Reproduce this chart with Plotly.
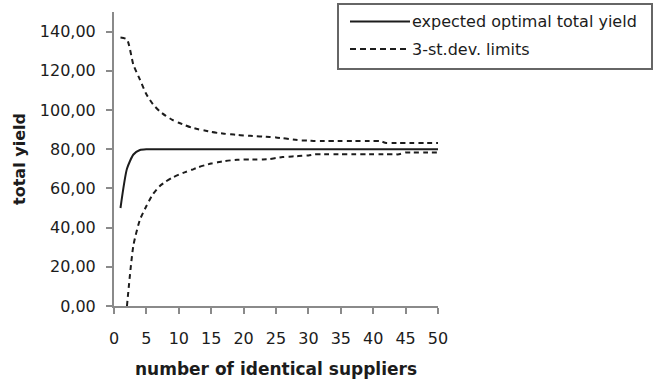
import plotly.graph_objects as go

# ---- data ----
suppliers = list(range(1, 51))
expected_yield = [50, 70, 77.3, 79.6, 80] + [80] * 45
upper_limit = [137, 136, 123, 115.5, 108, 103, 99.5, 97, 95, 93.5,
               92.2, 91, 90.2, 89.5, 88.8, 88.3, 87.9, 87.6, 87.3, 87,
               86.8, 86.6, 86.4, 86.2, 86, 85.6, 85.2, 84.8, 84.5, 84.4] \
    + [84.2] * 11 + [83.2] * 9
lower_limit = [None, 0, 31, 44, 51, 57, 61, 63.5, 65.5, 67,
               68.3, 69.5, 70.8, 71.8, 72.7, 73.3, 73.9, 74.3, 74.6, 74.7,
               74.7, 74.7, 74.8, 75, 75.5, 76, 76.2, 76.4, 76.6, 76.8] \
    + [77.4] * 14 + [78.3] * 6
x_ticks = list(range(0, 51, 5))
y_ticks = [0, 20, 40, 60, 80, 100, 120, 140]
y_tick_labels = ["0,00", "20,00", "40,00", "60,00", "80,00", "100,00", "120,00", "140,00"]
series_names = ["expected optimal total yield", "3-st.dev. limits"]

W, H = 657, 383
# plot area in page pixels
P_LEFT, P_RIGHT, P_TOP, P_BOTTOM = 114, 438, 12, 306
ML, MR, MT, MB = P_LEFT, W - P_RIGHT, P_TOP, H - P_BOTTOM
pw, ph = P_RIGHT - P_LEFT, P_BOTTOM - P_TOP

def px(xp):
    return (xp - P_LEFT) / pw

def py(yp):
    return (P_BOTTOM - yp) / ph

line_col = "#1c1c1c"
axis_col = "#8a8a8a"
font = "DejaVu Sans"

fig = go.Figure()
fig.add_trace(go.Scatter(x=suppliers, y=expected_yield, mode="lines",
                         line=dict(color=line_col, width=2, shape="spline", smoothing=0.6),
                         name=series_names[0]))
for ys in (upper_limit, lower_limit):
    fig.add_trace(go.Scatter(x=suppliers, y=ys, mode="lines",
                             line=dict(color=line_col, width=2, dash="5px,4px",
                                       shape="spline", smoothing=0.6),
                             name=series_names[1], connectgaps=False))

# manual legend
shapes = [
    dict(type="rect", xref="paper", yref="paper", x0=px(338), x1=px(652), y0=py(69), y1=py(4),
         line=dict(color="#666666", width=2), fillcolor="white", layer="above"),
    dict(type="line", xref="paper", yref="paper", x0=px(350), x1=px(410), y0=py(21.5), y1=py(21.5),
         line=dict(color=line_col, width=2), layer="above"),
    dict(type="line", xref="paper", yref="paper", x0=px(350), x1=px(409), y0=py(49), y1=py(49),
         line=dict(color=line_col, width=2, dash="6px,4px"), layer="above"),
]
annotations = [
    dict(text=series_names[0], xref="paper", yref="paper", x=px(410), y=py(21),
         xanchor="left", yanchor="middle", showarrow=False,
         font=dict(family=font, size=16, color=line_col)),
    dict(text=series_names[1], xref="paper", yref="paper", x=px(410), y=py(49),
         xanchor="left", yanchor="middle", showarrow=False,
         font=dict(family=font, size=16, color=line_col)),
]

fig.update_layout(
    width=W, height=H,
    margin=dict(l=ML, r=MR, t=MT, b=MB, pad=0),
    paper_bgcolor="white", plot_bgcolor="white",
    showlegend=False,
    font=dict(family=font, size=16, color=line_col),
    shapes=shapes, annotations=annotations,
    xaxis=dict(range=[0, 50], tickvals=x_ticks, showgrid=False, zeroline=False,
               automargin=False,
               showline=True, linecolor=axis_col, linewidth=2,
               ticks="outside", ticklen=6, tickwidth=2, tickcolor=axis_col,
               tickfont=dict(family=font, size=16, color=line_col),
               ticklabelstandoff=11,
               title=dict(text="<b>number of identical suppliers</b>", standoff=16,
                          font=dict(family=font, size=17, color=line_col))),
    yaxis=dict(range=[0, 150], tickvals=y_ticks, ticktext=y_tick_labels,
               showgrid=False, zeroline=False, automargin=False,
               showline=True, linecolor=axis_col, linewidth=2,
               ticks="outside", ticklen=6, tickwidth=2, tickcolor=axis_col,
               tickfont=dict(family=font, size=16, color=line_col),
               ticklabelstandoff=7,
               title=dict(text="<b>total yield</b>", standoff=10,
                          font=dict(family=font, size=16, color=line_col))),
)

fig.write_html("out.html", config={"displayModeBar": False},
               post_script="document.body.style.margin='0px';")
